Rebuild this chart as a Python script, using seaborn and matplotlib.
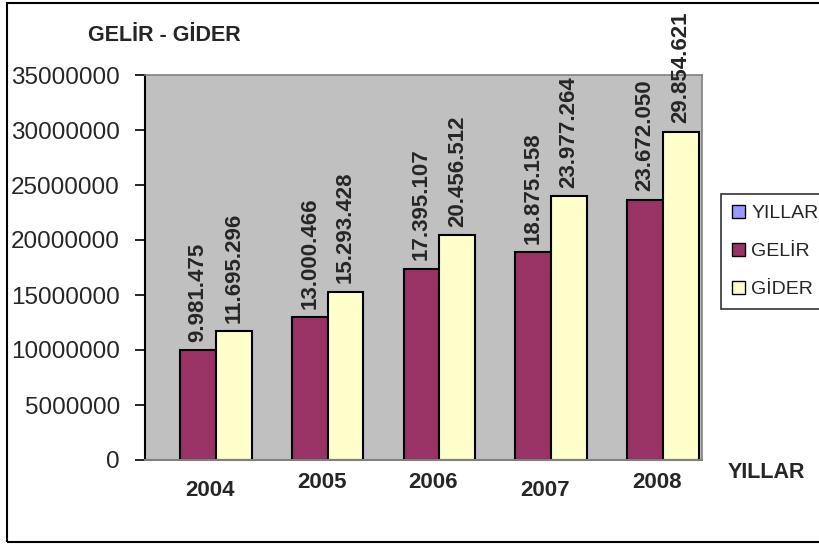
import matplotlib
matplotlib.use("Agg")
import matplotlib.pyplot as plt
import matplotlib.transforms as mtransforms
from matplotlib.patches import Patch, Rectangle
import seaborn as sns
import pandas as pd

# data
years = ["2004", "2005", "2006", "2007", "2008"]
gelir = [9981475, 13000466, 17395107, 18875158, 23672050]
gider = [11695296, 15293428, 20456512, 23977264, 29854621]
series = ["GELİR", "GİDER"]
y_ticks = [0, 5000000, 10000000, 15000000, 20000000, 25000000, 30000000, 35000000]
legend_labels = ["YILLAR", "GELİR", "GİDER"]

colors = {"GELİR": "#993366", "GİDER": "#FFFFCC"}

df = pd.DataFrame({
    "YIL": years + years,
    "SERI": [series[0]] * len(years) + [series[1]] * len(years),
    "TUTAR": gelir + gider,
})

sns.set_style("white")
plt.rcParams["font.family"] = ["Liberation Sans", "DejaVu Sans"]

W, H = 819, 545
fig = plt.figure(figsize=(W / 100, H / 100), dpi=100)
ax = fig.add_axes([145 / W, 85 / H, 557 / W, 385 / H])
ax.set_facecolor("#C0C0C0")

sns.barplot(data=df, x="YIL", y="TUTAR", hue="SERI", palette=colors,
            edgecolor="black", linewidth=1.5, width=0.64, saturation=1,
            legend=False, ax=ax)

# value labels (Turkish thousands separator)
for cont, vals in zip(ax.containers, [gelir, gider]):
    ax.bar_label(cont, labels=[f"{v:,}".replace(",", ".") for v in vals],
                 rotation=90, padding=6, fontsize=16, fontweight="bold")

ax.set_xlim(-0.635, 4.35)
ax.set_ylim(0, 35000000)
ax.set_yticks(y_ticks)
ax.set_yticklabels([str(t) for t in y_ticks])
ax.set_xlabel("")
ax.set_ylabel("")
ax.tick_params(axis="y", length=7, width=1.2, color="black", direction="out",
               labelsize=17.5, left=True, pad=11)
ax.tick_params(axis="x", length=0, labelsize=16, pad=9)
for lab in ax.get_xticklabels():
    lab.set_fontweight("bold")
# staggered year labels as in the original
for i, lab in enumerate(ax.get_xticklabels()):
    if years[i] in ("2004", "2007"):
        lab.set_transform(lab.get_transform() +
                          mtransforms.ScaledTranslation(-6 / 100, -8 / 100, fig.dpi_scale_trans))
    else:
        lab.set_transform(lab.get_transform() +
                          mtransforms.ScaledTranslation(-6 / 100, 0, fig.dpi_scale_trans))

ax.spines["left"].set_color("black")
ax.spines["left"].set_linewidth(1.5)
ax.spines["bottom"].set_color("#808080")
ax.spines["bottom"].set_linewidth(1.5)
for s in ("top", "right"):
    ax.spines[s].set_color("#808080")
    ax.spines[s].set_linewidth(1.2)

fig.text(164 / W, 1 - 35 / H, "GELİR - GİDER", fontsize=15.5, fontweight="bold",
         ha="center", va="center")
fig.text(766 / W, 1 - 473 / H, "YILLAR", fontsize=15.5, fontweight="bold",
         ha="center", va="center")

handles = [Patch(facecolor="#9999FF", edgecolor="black"),
           Patch(facecolor=colors["GELİR"], edgecolor="black"),
           Patch(facecolor=colors["GİDER"], edgecolor="black")]
leg = fig.legend(handles, legend_labels, loc="upper left",
                 bbox_to_anchor=(721 / W, 1 - 194 / H), frameon=True,
                 fancybox=False, edgecolor="black", fontsize=14,
                 handlelength=0.7, handleheight=0.7, handletextpad=0.3,
                 labelspacing=1.05, borderpad=0.55, borderaxespad=0)
leg.get_frame().set_linewidth(1.2)

# outer chart border
fig.patches.append(Rectangle((7 / W, 3 / H), 1.0, 539 / H, transform=fig.transFigure,
                             fill=False, edgecolor="black", linewidth=1.5))

fig.savefig("out.png", dpi=100)
